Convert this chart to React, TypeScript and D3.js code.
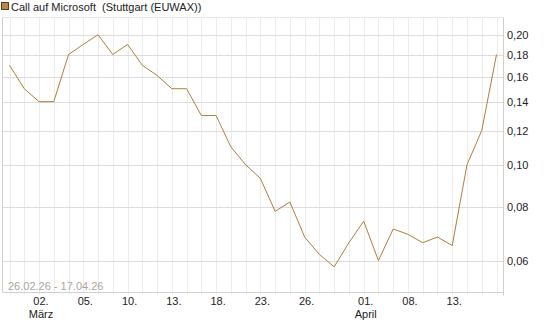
import React, { useEffect, useRef } from "react";
import * as d3 from "d3";

const dates = [
  "26.02", "27.02", "02.03", "03.03", "04.03", "05.03", "06.03", "09.03", "10.03",
  "11.03", "12.03", "13.03", "16.03", "17.03", "18.03", "19.03", "20.03", "23.03",
  "24.03", "25.03", "26.03", "27.03", "30.03", "31.03", "01.04", "02.04", "07.04",
  "08.04", "09.04", "10.04", "13.04", "14.04", "15.04", "17.04",
];
const prices = [
  0.17, 0.15, 0.14, 0.14, 0.18, 0.19, 0.2, 0.18, 0.19, 0.17, 0.161, 0.15, 0.15,
  0.13, 0.13, 0.11, 0.1, 0.093, 0.078, 0.082, 0.068, 0.062, 0.058, 0.066, 0.074,
  0.06, 0.071, 0.069, 0.066, 0.068, 0.065, 0.1, 0.12, 0.18,
];
const yTicks = [0.06, 0.08, 0.1, 0.12, 0.14, 0.16, 0.18, 0.2];
const xTickDates = ["02.03", "05.03", "10.03", "13.03", "18.03", "23.03", "26.03", "01.04", "08.04", "13.04"];
const monthLabels = [
  { date: "02.03", label: "März" },
  { date: "01.04", label: "April" },
];
const title = "Call auf Microsoft  (Stuttgart (EUWAX))";
const rangeLabel = "26.02.26 - 17.04.26";

const App = () => {
  const svgRef = useRef<SVGSVGElement>(null);

  useEffect(() => {
    const width = 545;
    const height = 327;
    const left = 2.5;
    const right = 503.5;
    const top = 17.5;
    const bottom = 292.5;
    const font = "'Liberation Sans', Arial, sans-serif";
    const lineColor = "#b07d3a";

    const svg = d3.select(svgRef.current).attr("width", width).attr("height", height);
    svg.selectAll("*").remove();

    const x = d3.scaleLinear().domain([0, dates.length - 1]).range([9.5, 496.5]);
    const y = d3.scaleLog().domain([0.0506, 0.2193]).range([bottom, top]);

    // title + legend box
    svg.append("rect").attr("x", 1.5).attr("y", 2.5).attr("width", 7).attr("height", 7)
      .attr("fill", "#b5894a").attr("stroke", "#5a4020");
    svg.append("text").attr("x", 11).attr("y", 11).attr("font-family", font)
      .attr("font-size", 11).attr("fill", "#222").style("white-space", "pre").text(title);

    const g = svg.append("g");

    // vertical gridlines (every trading day)
    g.selectAll(".vg").data(dates).join("line")
      .attr("x1", (d, i) => Math.round(x(i)) + 0.5).attr("x2", (d, i) => Math.round(x(i)) + 0.5)
      .attr("y1", top).attr("y2", bottom + 2)
      .attr("stroke", "#ececec").attr("stroke-width", 1);

    // horizontal gridlines
    g.selectAll(".hg").data(yTicks).join("line")
      .attr("x1", left).attr("x2", right)
      .attr("y1", (d) => Math.round(y(d)) + 0.5).attr("y2", (d) => Math.round(y(d)) + 0.5)
      .attr("stroke", "#dcdcdc").attr("stroke-width", 1);

    // frame
    g.append("line").attr("x1", left).attr("x2", right).attr("y1", top).attr("y2", top).attr("stroke", "#e4e4e4");
    g.append("line").attr("x1", left).attr("x2", right).attr("y1", bottom).attr("y2", bottom).attr("stroke", "#d0d0d0");
    g.append("line").attr("x1", left).attr("x2", left).attr("y1", top).attr("y2", bottom).attr("stroke", "#d0d0d0");
    g.append("line").attr("x1", right).attr("x2", right).attr("y1", top).attr("y2", bottom + 3).attr("stroke", "#d0d0d0");

    // y labels
    g.selectAll(".yl").data(yTicks).join("text")
      .attr("x", 507).attr("y", (d) => y(d) + 4)
      .attr("font-family", font).attr("font-size", 11).attr("fill", "#222")
      .text((d) => d3.format(".2f")(d).replace(".", ","));

    // x labels
    g.selectAll(".xl").data(xTickDates).join("text")
      .attr("x", (d) => x(dates.indexOf(d)) + 2).attr("y", 305)
      .attr("text-anchor", "middle")
      .attr("font-family", font).attr("font-size", 11).attr("fill", "#222")
      .text((d) => d.slice(0, 3));

    g.selectAll(".ml").data(monthLabels).join("text")
      .attr("x", (d) => x(dates.indexOf(d.date)) + 2).attr("y", 318)
      .attr("text-anchor", "middle")
      .attr("font-family", font).attr("font-size", 11).attr("fill", "#222")
      .text((d) => d.label);

    // range label
    g.append("text").attr("x", 8).attr("y", 290)
      .attr("font-family", font).attr("font-size", 11).attr("fill", "#aaa49c")
      .text(rangeLabel);

    const line = d3.line<number>().x((d, i) => x(i)).y((d) => y(d));
    g.append("path").datum(prices)
      .attr("fill", "none").attr("stroke", lineColor).attr("stroke-width", 1)
      .attr("d", line);
  }, []);

  return (
    <div style={{ position: "absolute", left: 0, top: 0 }}>
      <svg ref={svgRef}></svg>
    </div>
  );
};

export default App;
